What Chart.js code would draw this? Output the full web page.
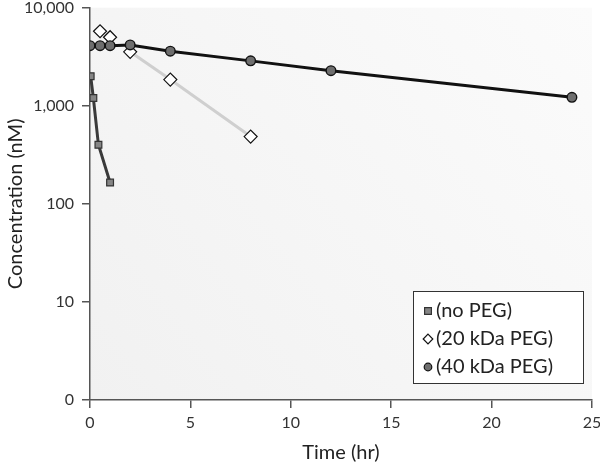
<!DOCTYPE html>
<html>
<head>
<meta charset="utf-8">
<script src="https://cdn.jsdelivr.net/npm/chart.js@4"></script>
<style>
  html, body { margin: 0; padding: 0; background: #fff; }
  #wrap { width: 600px; height: 469px; }
</style>
</head>
<body>
<div id="wrap"><canvas id="pk-chart" width="600" height="469"></canvas></div>
<script>
// data
const noPegTime = [0.033, 0.167, 0.42, 1];
const noPegConc = [2000, 1200, 400, 165];
const peg20Time = [0.5, 1, 2, 4, 8];
const peg20Conc = [5750, 5000, 3550, 1850, 485];
const peg40Time = [0, 0.5, 1, 2, 4, 8, 12, 24];
const peg40Conc = [4100, 4100, 4100, 4170, 3600, 2870, 2280, 1220];

const seriesLabels = ['(no PEG)', '(20 kDa PEG)', '(40 kDa PEG)'];
const yTicks = [1, 10, 100, 1000, 10000];
const yTickLabels = ['0', '10', '100', '1,000', '10,000'];
const xTicks = [0, 5, 10, 15, 20, 25];

const FONT = 'Lato, "Open Sans", sans-serif';

const toPts = (xs, ys) => xs.map((x, i) => ({ x: x, y: ys[i] }));

// light grey panel behind the plot
const panelBg = {
  id: 'panelBg',
  beforeDraw(chart) {
    const { ctx, chartArea: a } = chart;
    const g = ctx.createLinearGradient(a.left, a.bottom, a.right, a.top);
    g.addColorStop(0, '#f1f1f1');
    g.addColorStop(1, '#fbfbfb');
    ctx.save();
    ctx.fillStyle = g;
    ctx.fillRect(a.left, a.top, a.right - a.left, a.bottom - a.top);
    ctx.restore();
  }
};

// boxed legend inside the plot, bottom right
const boxLegend = {
  id: 'boxLegend',
  afterDraw(chart) {
    const ctx = chart.ctx;
    const x0 = 413, y0 = 291, w = 170, h = 92;
    const mx = x0 + 15;
    ctx.save();
    ctx.fillStyle = '#fff';
    ctx.fillRect(x0, y0, w, h);
    ctx.strokeStyle = '#333';
    ctx.lineWidth = 1;
    ctx.strokeRect(x0 + 0.5, y0 + 0.5, w, h);
    ctx.font = '20px ' + FONT;
    ctx.textBaseline = 'middle';
    chart.data.datasets.forEach((ds, i) => {
      const cy = y0 + 20 + i * 28;
      const r = ds.legendRadius;
      ctx.fillStyle = ds.pointBackgroundColor;
      ctx.strokeStyle = ds.pointBorderColor;
      ctx.lineWidth = 1.2;
      ctx.beginPath();
      if (ds.pointStyle === 'circle') {
        ctx.arc(mx, cy, r, 0, Math.PI * 2);
      } else if (ds.pointStyle === 'rect') {
        ctx.rect(mx - r, cy - r, 2 * r, 2 * r);
      } else {
        ctx.moveTo(mx, cy - r); ctx.lineTo(mx + r, cy);
        ctx.lineTo(mx, cy + r); ctx.lineTo(mx - r, cy);
        ctx.closePath();
      }
      ctx.fill(); ctx.stroke();
      ctx.fillStyle = '#222';
      ctx.fillText(ds.label, x0 + 23, cy);
    });
    ctx.restore();
  }
};

new Chart(document.getElementById('pk-chart'), {
  type: 'line',
  data: {
    datasets: [
      {
        label: seriesLabels[0],
        data: toPts(noPegTime, noPegConc),
        borderColor: '#3a3a3a',
        borderWidth: 3,
        pointStyle: 'rect',
        pointRadius: 4.8,
        legendRadius: 3.4,
        pointBackgroundColor: '#858585',
        pointBorderColor: '#333',
        pointBorderWidth: 1.2,
        order: 2
      },
      {
        label: seriesLabels[1],
        data: toPts(peg20Time, peg20Conc),
        borderColor: '#cfcfcf',
        borderWidth: 3,
        // the grey fit line only runs from the 2 hr point
        segment: { borderColor: c => c.p0.parsed.x < 2 ? 'rgba(0,0,0,0)' : '#cfcfcf' },
        pointStyle: 'rectRot',
        pointRadius: 6.5,
        legendRadius: 4.8,
        pointBackgroundColor: '#fff',
        pointBorderColor: '#111',
        pointBorderWidth: 1.2,
        order: 1
      },
      {
        label: seriesLabels[2],
        data: toPts(peg40Time, peg40Conc),
        borderColor: '#111',
        borderWidth: 3,
        pointStyle: 'circle',
        pointRadius: 4.8,
        legendRadius: 3.8,
        pointBackgroundColor: '#6e6e6e',
        pointBorderColor: '#111',
        pointBorderWidth: 1.4,
        order: 0
      }
    ]
  },
  options: {
    responsive: false,
    animation: false,
    layout: { padding: { top: 7, right: 8, left: 0, bottom: 0 } },
    plugins: { legend: { display: false }, tooltip: { enabled: false } },
    scales: {
      x: {
        type: 'linear',
        min: 0, max: 25,
        afterBuildTicks: s => { s.ticks = xTicks.map(v => ({ value: v })); },
        afterFit: s => { s.height = 69; s.paddingLeft = 0; s.paddingRight = 0; },
        border: { display: true, color: '#555', width: 1.5 },
        grid: { drawOnChartArea: false, drawTicks: true, tickLength: 8, color: '#555', lineWidth: 1.5 },
        ticks: { color: '#333', font: { family: FONT, size: 16 }, padding: 5, maxRotation: 0 },
        title: { display: true, text: 'Time (hr)', color: '#222', font: { family: FONT, size: 20 }, padding: { top: 3 } }
      },
      y: {
        type: 'logarithmic',
        min: 1, max: 10000,
        afterBuildTicks: s => { s.ticks = yTicks.map(v => ({ value: v })); },
        afterFit: s => { s.width = 90; s.paddingTop = 0; s.paddingBottom = 0; },
        border: { display: true, color: '#555', width: 1.5 },
        grid: { drawOnChartArea: false, drawTicks: true, tickLength: 8, color: '#555', lineWidth: 1.5 },
        ticks: {
          color: '#333', font: { family: FONT, size: 16 }, padding: 8,
          callback: v => yTickLabels[yTicks.indexOf(v)]
        },
        title: { display: true, text: 'Concentration (nM)', color: '#222', font: { family: FONT, size: 20 }, padding: { bottom: 0 } }
      }
    }
  },
  plugins: [panelBg, boxLegend]
});
</script>
</body>
</html>
